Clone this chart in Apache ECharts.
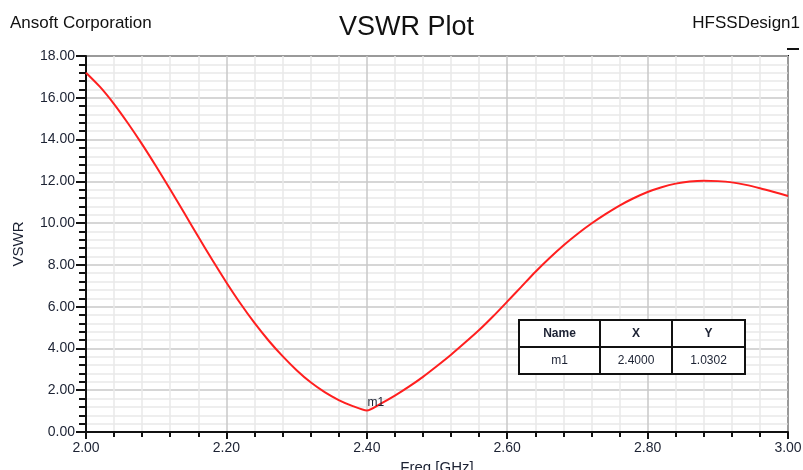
<!DOCTYPE html>
<html>
<head>
<meta charset="utf-8">
<script src="https://cdn.jsdelivr.net/npm/echarts@6/dist/echarts.min.js"></script>
<style>
html,body{margin:0;padding:0;background:#fff;}
#c{width:803px;height:470px;}
</style>
</head>
<body>
<div id="c"></div>
<script>
var freq = [2.00,2.02,2.04,2.06,2.08,2.10,2.12,2.14,2.16,2.18,2.20,2.22,2.24,2.26,2.28,2.30,2.32,2.34,2.36,2.38,2.40,2.42,2.44,2.46,2.48,2.50,2.52,2.54,2.56,2.58,2.60,2.62,2.64,2.66,2.68,2.70,2.72,2.74,2.76,2.78,2.80,2.82,2.84,2.86,2.88,2.90,2.92,2.94,2.96,2.98,3.00];
var vswr = [17.2,16.52,15.70,14.77,13.77,12.71,11.61,10.48,9.35,8.23,7.16,6.15,5.22,4.38,3.63,2.96,2.38,1.91,1.53,1.24,1.03,1.36,1.74,2.17,2.64,3.16,3.70,4.28,4.88,5.54,6.24,6.95,7.66,8.32,8.93,9.48,9.98,10.43,10.84,11.19,11.49,11.72,11.89,11.99,12.03,12.01,11.95,11.83,11.67,11.49,11.30];
var tableHeader = ['Name','X','Y'];
var markerName = 'm1';
var markerX = 2.4000;
var markerY = 1.0302;

var FONT = '"Liberation Sans", Arial, sans-serif';
var TXT = '#1c2233';
var chart = echarts.init(document.getElementById('c'));

var tl = 519, tt = 320, cw = [81, 72, 73], rh = 27;
var tw = cw[0] + cw[1] + cw[2];
var rows = [tableHeader, [markerName, markerX.toFixed(4), markerY.toFixed(4)]];
var ZT = 200;
var tableEls = [
  {type:'rect', z:ZT, shape:{x:tl, y:tt, width:tw, height:rh*2}, style:{fill:'#fff', stroke:'#111', lineWidth:2}},
  {type:'line', z:ZT, shape:{x1:tl, y1:tt+rh, x2:tl+tw, y2:tt+rh}, style:{stroke:'#111', lineWidth:2}},
  {type:'line', z:ZT, shape:{x1:tl+cw[0], y1:tt, x2:tl+cw[0], y2:tt+2*rh}, style:{stroke:'#111', lineWidth:2}},
  {type:'line', z:ZT, shape:{x1:tl+cw[0]+cw[1], y1:tt, x2:tl+cw[0]+cw[1], y2:tt+2*rh}, style:{stroke:'#111', lineWidth:2}}
];
var xc = tl;
for (var c = 0; c < 3; c++) {
  for (var r = 0; r < 2; r++) {
    tableEls.push({type:'text', z:ZT, x:xc + cw[c]/2, y:tt + r*rh + rh/2,
      style:{text:rows[r][c], fill:TXT, fontFamily:FONT, fontSize:12, fontWeight:(r===0?'bold':'normal'),
             align:'center', verticalAlign:'middle'}});
  }
  xc += cw[c];
}

chart.setOption({
  animation:false,
  backgroundColor:'#fff',
  title:[
    {text:'VSWR Plot', left:339, top:14, padding:0, textStyle:{fontFamily:FONT, fontSize:27, fontWeight:'normal', color:'#111'}},
    {text:'Ansoft Corporation', left:10, top:15, padding:0, textStyle:{fontFamily:FONT, fontSize:17, fontWeight:'normal', color:'#111'}},
    {text:'HFSSDesign1', right:3, top:15, padding:0, textStyle:{fontFamily:FONT, fontSize:17, fontWeight:'normal', color:'#111'}}
  ],
  grid:{left:86, right:15, top:56, bottom:38, containLabel:false, outerBoundsMode:'none',
        show:true, borderColor:'#111', borderWidth:2, backgroundColor:'transparent'},
  xAxis:{
    type:'value', min:2, max:3, interval:0.2,
    name:'Freq [GHz]', nameLocation:'middle', nameGap:21,
    nameTextStyle:{fontFamily:FONT, fontSize:15, color:TXT},
    axisLine:{show:true, lineStyle:{color:'#111', width:2}},
    axisTick:{show:true, length:7, lineStyle:{color:'#111', width:2}},
    minorTick:{show:true, splitNumber:5, length:5, lineStyle:{color:'#111', width:2}},
    splitLine:{show:true, lineStyle:{color:'#c9c9c9', width:1.5}},
    minorSplitLine:{show:true, lineStyle:{color:'#e9e9e9', width:1.5}},
    axisLabel:{fontFamily:FONT, fontSize:14, color:TXT, margin:9, formatter:function(v){return v.toFixed(2);}}
  },
  yAxis:{
    type:'value', min:0, max:18, interval:2,
    name:'VSWR', nameLocation:'middle', nameGap:60,
    nameTextStyle:{fontFamily:FONT, fontSize:15, color:TXT},
    axisLine:{show:true, lineStyle:{color:'#111', width:2}},
    axisTick:{show:true, length:10, lineStyle:{color:'#111', width:2}},
    minorTick:{show:true, splitNumber:5, length:7, lineStyle:{color:'#111', width:2}},
    splitLine:{show:true, lineStyle:{color:'#c9c9c9', width:1.5}},
    minorSplitLine:{show:true, lineStyle:{color:'#e9e9e9', width:1.5}},
    axisLabel:{fontFamily:FONT, fontSize:14, color:TXT, margin:11, formatter:function(v){return v.toFixed(2);}}
  },
  series:[{
    type:'line', showSymbol:false, smooth:0.25,
    data:freq.map(function(f,i){return [f, vswr[i]];}),
    lineStyle:{color:'#ff1f1f', width:2},
    markPoint:{
      symbol:'circle', symbolSize:1, itemStyle:{color:'transparent'},
      label:{show:true, formatter:markerName, position:'top', offset:[9,4], fontFamily:FONT, fontSize:12, color:TXT},
      data:[{coord:[markerX, markerY]}]
    }
  }],
  graphic:[
    {type:'line', z:ZT, shape:{x1:787, y1:49, x2:799, y2:49}, style:{stroke:'#111', lineWidth:2}},
    {type:'group', z:ZT, children:tableEls}
  ]
});
</script>
</body>
</html>
